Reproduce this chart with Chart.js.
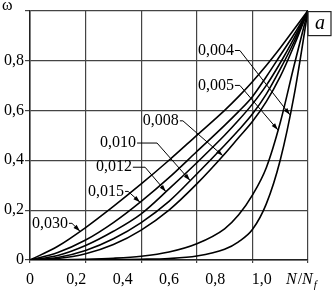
<!DOCTYPE html>
<html>
<head>
<meta charset="utf-8">
<script src="https://cdn.jsdelivr.net/npm/chart.js@4"></script>
<style>
  body { margin: 0; background: #fff; }
  #wrap { width: 332px; height: 290px; }
</style>
</head>
<body>
<div id="wrap"><canvas id="damageChart"></canvas></div>
<script>
// N/Nf values shared by every curve
const nRatio = [0, 0.1, 0.2, 0.3, 0.4, 0.5, 0.6, 0.7, 0.75, 0.8, 0.85, 0.9, 0.95, 1];

// damage omega for each strain amplitude
const w030 = [0, 0.055, 0.13, 0.215, 0.305, 0.4, 0.5, 0.6, 0.655, 0.715, 0.78, 0.85, 0.925, 1];
const w015 = [0, 0.03, 0.08, 0.15, 0.235, 0.33, 0.435, 0.54, 0.595, 0.655, 0.735, 0.82, 0.905, 1];
const w012 = [0, 0.018, 0.058, 0.115, 0.185, 0.285, 0.39, 0.5, 0.56, 0.625, 0.7, 0.79, 0.89, 1];
const w010 = [0, 0.01, 0.038, 0.085, 0.15, 0.235, 0.345, 0.46, 0.52, 0.585, 0.665, 0.765, 0.875, 1];
const w008 = [0, 0.006, 0.025, 0.062, 0.12, 0.2, 0.305, 0.425, 0.49, 0.555, 0.635, 0.735, 0.86, 1];
const w005 = [0, 0.001, 0.003, 0.007, 0.015, 0.032, 0.065, 0.125, 0.18, 0.26, 0.37, 0.55, 0.78, 1];
const w004 = [0, 0, 0.001, 0.002, 0.003, 0.006, 0.016, 0.043, 0.073, 0.122, 0.225, 0.4, 0.66, 1];

const seriesNames = ["0,030", "0,015", "0,012", "0,010", "0,008", "0,005", "0,004"];
const seriesValues = [w030, w015, w012, w010, w008, w005, w004];

const xTickLabels = ["0", "0,2", "0,4", "0,6", "0,8", "1,0"];
const yTickLabels = ["0", "0,2", "0,4", "0,6", "0,8"];

// label callouts: text position, knee of the leader and N/Nf where the arrow meets the curve
const callouts = [
  { name: "0,004", tx: 0.604, ty: 0.84, kx: 0.755, tipX: 0.935 },
  { name: "0,005", tx: 0.604, ty: 0.70, kx: 0.755, tipX: 0.892 },
  { name: "0,008", tx: 0.406, ty: 0.558, kx: 0.55, tipX: 0.694 },
  { name: "0,010", tx: 0.252, ty: 0.469, kx: 0.457, tipX: 0.576 },
  { name: "0,012", tx: 0.237, ty: 0.372, kx: 0.414, tipX: 0.489 },
  { name: "0,015", tx: 0.209, ty: 0.275, kx: 0.353, tipX: 0.396 },
  { name: "0,030", tx: 0.007, ty: 0.147, kx: 0.151, tipX: 0.18 },
];

const serif = "'Liberation Serif', 'DejaVu Serif', serif";

function valueAt(values, x) {
  for (let i = 1; i < nRatio.length; i++) {
    if (x <= nRatio[i]) {
      const t = (x - nRatio[i - 1]) / (nRatio[i] - nRatio[i - 1]);
      return values[i - 1] + t * (values[i] - values[i - 1]);
    }
  }
  return values[values.length - 1];
}

const extras = {
  id: "extras",
  afterDatasetsDraw(chart) {
    const c = chart.ctx;
    const xs = chart.scales.x, ys = chart.scales.y, xl = chart.scales.xl;
    const area = chart.chartArea;
    c.save();
    c.fillStyle = "#000";
    c.strokeStyle = "#000";
    c.font = "16px " + serif;
    c.textBaseline = "middle";
    c.lineWidth = 1;

    callouts.forEach((a) => {
      const vals = seriesValues[seriesNames.indexOf(a.name)];
      const px = xs.getPixelForValue(a.tx);
      const py = ys.getPixelForValue(a.ty);
      c.textAlign = "left";
      c.fillText(a.name, px, py);
      const w = c.measureText(a.name).width;
      const kx = xs.getPixelForValue(a.kx);
      const tx = xs.getPixelForValue(a.tipX);
      const ty = ys.getPixelForValue(valueAt(vals, a.tipX));
      c.beginPath();
      c.moveTo(px + w + 1, py);
      c.lineTo(kx, py);
      c.lineTo(tx, ty);
      c.stroke();
      // arrow head
      const ang = Math.atan2(ty - py, tx - kx);
      c.beginPath();
      c.moveTo(tx, ty);
      c.lineTo(tx - 7 * Math.cos(ang) + 2.2 * Math.sin(ang), ty - 7 * Math.sin(ang) - 2.2 * Math.cos(ang));
      c.lineTo(tx - 7 * Math.cos(ang) - 2.2 * Math.sin(ang), ty - 7 * Math.sin(ang) + 2.2 * Math.cos(ang));
      c.closePath();
      c.fill();
    });

    // omega on top of the y axis
    c.textAlign = "left";
    c.textBaseline = "alphabetic";
    c.font = "16px " + serif;
    c.fillText("ω", 2, 10);

    // N/Nf at the end of the x axis
    const nx = xl.getPixelForValue(1.2) - 22;
    const ny = xl.top + 22;
    c.font = "italic 16px " + serif;
    c.fillText("N", nx, ny);
    let w = c.measureText("N").width;
    c.font = "16px " + serif;
    c.fillText("/", nx + w + 1, ny);
    w += c.measureText("/").width + 1;
    c.font = "italic 16px " + serif;
    c.fillText("N", nx + w, ny);
    w += c.measureText("N").width;
    c.font = "italic 11px " + serif;
    c.fillText("f", nx + w + 1, ny + 4);

    // panel letter
    c.lineWidth = 1.2;
    c.strokeStyle = "#222";
    c.strokeRect(area.right, area.top + 1, 23, 24);
    c.font = "italic 20px " + serif;
    c.textAlign = "center";
    c.textBaseline = "middle";
    c.fillText("a", area.right + 12, area.top + 13);
    c.restore();
  },
};

const ctx = document.getElementById("damageChart").getContext("2d");
const damageChart = new Chart(ctx, {
  type: "line",
  data: {
    datasets: seriesNames.map((name, i) => ({
      label: name,
      data: nRatio.map((n, j) => ({ x: n, y: seriesValues[i][j] })),
      borderColor: "#000",
      borderWidth: 1.6,
      pointRadius: 0,
      fill: false,
      cubicInterpolationMode: "monotone",
    })),
  },
  options: {
    responsive: true,
    maintainAspectRatio: false,
    animation: false,
    layout: { padding: { top: 2, right: 24, left: 0, bottom: 0 } },
    scales: {
      x: {
        type: "linear",
        position: "bottom",
        min: 0,
        max: 1,
        ticks: { display: false, stepSize: 0.2 },
        grid: { color: "#444", lineWidth: 1.2, tickLength: 3 },
        border: { color: "#222", width: 1.5 },
        afterFit: (s) => { s.height = 2; },
      },
      xl: {
        type: "linear",
        position: "bottom",
        min: 0,
        max: 1.2,
        grid: { display: false, drawTicks: false },
        border: { display: false },
        ticks: {
          stepSize: 0.2,
          autoSkip: false,
          maxRotation: 0,
          padding: 8,
          color: "#000",
          font: { family: serif, size: 16 },
          callback: (v) => xTickLabels[Math.round(v / 0.2)] || "",
        },
        afterFit: (s) => { s.height = 28; },
      },
      y: {
        min: 0,
        max: 1,
        ticks: {
          stepSize: 0.2,
          padding: 1,
          color: "#000",
          font: { family: serif, size: 16 },
          callback: (v) => yTickLabels[Math.round(v / 0.2)] || "",
        },
        grid: { color: "#444", lineWidth: 1.2, tickLength: 5 },
        border: { color: "#222", width: 1.5 },
        afterFit: (s) => { s.width = 30; },
      },
    },
    plugins: {
      legend: { display: false },
      tooltip: { enabled: false },
    },
  },
  plugins: [extras],
});
</script>
</body>
</html>
